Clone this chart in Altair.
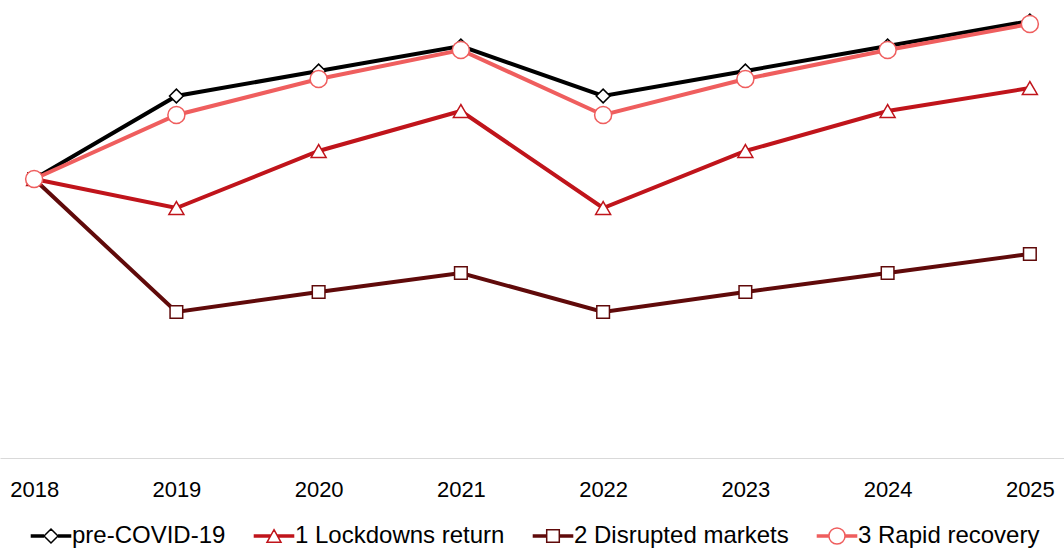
import altair as alt
import pandas as pd

years = ["2018", "2019", "2020", "2021", "2022", "2023", "2024", "2025"]
series_names = ["pre-COVID-19", "1 Lockdowns return", "2 Disrupted markets", "3 Rapid recovery"]
pre_covid = [279, 362, 387, 412, 362, 387, 412, 437]
lockdowns = [279, 250, 307, 347, 250, 307, 347, 370]
disrupted = [279, 146, 166, 185, 146, 166, 185, 204]
rapid = [279, 343, 379, 408, 343, 379, 408, 434]
colors = ["#000000", "#C0141B", "#600A0A", "#EF5E5E"]
shapes = ["diamond", "triangle-up", "square", "circle"]
sizes = [190, 225, 160, 290]

rows = []
for name, vals in zip(series_names, [pre_covid, lockdowns, disrupted, rapid]):
    for yr, v in zip(years, vals):
        rows.append({"year": yr, "series": name, "value": v})
df = pd.DataFrame(rows)

FONT = "Liberation Sans"

# legend symbols: line segments + marker (unit = sqrt(size)/2 = 7px)
def seg(x0, x1):
    return "".join(f"M{x0},{dy}L{x1},{dy}" for dy in (-0.15, 0, 0.15))

legend_paths = {
    "pre-COVID-19": seg(-2.9, -1) + seg(1, 2.9) + "M-1,0L0,-1L1,0L0,1Z",
    "1 Lockdowns return": seg(-2.9, -0.5) + seg(0.5, 2.9) + "M0,-0.9L1,0.9L-1,0.9Z",
    "2 Disrupted markets": seg(-2.9, -0.9) + seg(0.9, 2.9) + "M-0.9,-0.9L0.9,-0.9L0.9,0.9L-0.9,0.9Z",
    "3 Rapid recovery": seg(-2.9, -1.15) + seg(1.15, 2.9)
    + "M-1.15,0A1.15,1.15,0,1,0,1.15,0A1.15,1.15,0,1,0,-1.15,0Z",
}
expr = ""
for name in series_names[:-1]:
    expr += f"datum.value === '{name}' ? '{legend_paths[name]}' : "
expr += f"'{legend_paths[series_names[-1]]}'"

legend = alt.Legend(
    title=None,
    orient="none",
    legendX=39,
    legendY=524,
    direction="horizontal",
    labelFont=FONT,
    labelFontSize=24,
    labelColor="black",
    labelLimit=600,
    symbolSize=196,
    symbolStrokeWidth=1.5,
    symbolFillColor="white",
    symbolOpacity=1,
    symbolType={"expr": expr},
    labelOffset=9,
    columnPadding=24,
    padding=0,
    values=series_names,
)

x = alt.X(
    "year:O",
    sort=years,
    scale=alt.Scale(type="point", padding=0.24),
    axis=alt.Axis(
        title=None,
        labelAngle=0,
        ticks=False,
        tickSize=0,
        grid=False,
        domainColor="#d9d9d9",
        domainWidth=1,
        labelPadding=21,
        labelFont=FONT,
        labelFontSize=22,
        labelColor="black",
    ),
)
y = alt.Y("value:Q", scale=alt.Scale(domain=[0, 458], nice=False, zero=False), axis=None)
color_scale = alt.Scale(domain=series_names, range=colors)

base = alt.Chart(df)
lines = base.mark_line().encode(
    x=x,
    y=y,
    color=alt.Color("series:N", sort=series_names, scale=color_scale, legend=legend),
    strokeWidth=alt.value(4),
)

point_layers = []
for name, shp, sz in zip(series_names, shapes, sizes):
    point_layers.append(
        base.transform_filter(alt.datum.series == name)
        .mark_point(shape=shp, size=sz, filled=False, fill="white", fillOpacity=1, opacity=1, strokeWidth=1.5)
        .encode(
            x=x,
            y=y,
            color=alt.Color("series:N", sort=series_names, scale=color_scale, legend=None),
        )
    )

chart = (
    alt.layer(lines, *point_layers)
    .properties(width=1064, height=458, padding=0, background="white")
    .configure_view(stroke=None)
)

chart.save("out.html", embed_options={"renderer": "svg", "actions": False})
